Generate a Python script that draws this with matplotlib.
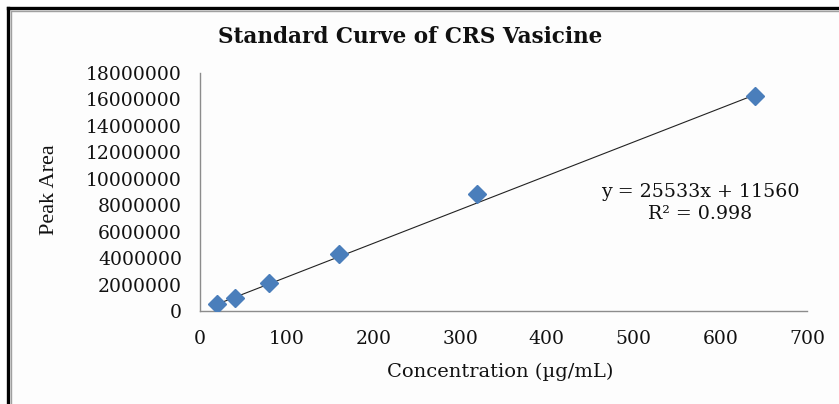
import matplotlib
matplotlib.use("Agg")
import matplotlib.pyplot as plt
from matplotlib.lines import Line2D
import numpy as np

# --- data ---
conc = [20, 40, 80, 160, 320, 640]
peak_area = [520000, 1010000, 2130000, 4290000, 8820000, 16250000]
slope = 25533
intercept = 11560
r_squared = 0.998

x_ticks = [0, 100, 200, 300, 400, 500, 600, 700]
y_ticks = [0, 2000000, 4000000, 6000000, 8000000, 10000000,
           12000000, 14000000, 16000000, 18000000]

C_POINT = "#4a7ebb"
C_AXIS = "#8c8c8c"
SERIF = "DejaVu Serif"

W, H = 839, 404
fig = plt.figure(figsize=(W / 100, H / 100), dpi=100)
fig.patch.set_facecolor("#fdfdfd")

# plot area in pixels: x 200..807, y 73..311
ax = fig.add_axes([200 / W, 1 - 311 / H, 607 / W, 238 / H])
ax.set_facecolor("#fdfdfd")

fit_x = np.array([conc[0], conc[-1]])
ax.plot(fit_x, slope * fit_x + intercept, color="#222222", lw=0.8, zorder=2)
ax.plot(conc, peak_area, linestyle="none", marker="D", markersize=9,
        color=C_POINT, markeredgecolor=C_POINT, zorder=3)

ax.set_xlim(0, 700)
ax.set_ylim(0, 18000000)
ax.set_xticks(x_ticks)
ax.set_yticks(y_ticks)
ax.set_xticklabels([str(t) for t in x_ticks], fontfamily=SERIF, fontsize=13.5)
ax.set_yticklabels([str(t) for t in y_ticks], fontfamily=SERIF, fontsize=13.5)
ax.tick_params(axis="both", length=0, colors="#111111")
ax.tick_params(axis="x", pad=14)
ax.tick_params(axis="y", pad=13)

for side in ("top", "right"):
    ax.spines[side].set_visible(False)
for side in ("left", "bottom"):
    ax.spines[side].set_color(C_AXIS)
    ax.spines[side].set_linewidth(1.0)

fig.text(410 / W, 1 - 37 / H, "Standard Curve of CRS Vasicine",
         ha="center", va="center", fontfamily=SERIF, fontweight="bold",
         fontsize=15.5, color="#111111")
fig.text(50 / W, 1 - 190 / H, "Peak Area", rotation=90,
         ha="center", va="center", fontfamily="Liberation Serif",
         fontsize=16, color="#111111")
fig.text(500 / W, 1 - 372 / H, "Concentration (µg/mL)",
         ha="center", va="center", fontfamily=SERIF, fontsize=14,
         color="#111111")

fig.text(700 / W, 1 - 192 / H, f"y = {slope}x + {intercept}",
         ha="center", va="center", fontfamily=SERIF, fontsize=13.7,
         color="#111111")
fig.text(700 / W, 1 - 214 / H, f"R² = {r_squared}",
         ha="center", va="center", fontfamily=SERIF, fontsize=13.7,
         color="#111111")

# frame lines at the top and left edge of the picture
fig.add_artist(Line2D([7.5 / W, 1], [1 - 7.5 / H, 1 - 7.5 / H],
                      transform=fig.transFigure, color="black", lw=2.4))
fig.add_artist(Line2D([7.5 / W, 7.5 / W], [0, 1 - 7.5 / H],
                      transform=fig.transFigure, color="black", lw=2.4))
fig.add_artist(Line2D([10.5 / W, 1], [1 - 10.5 / H, 1 - 10.5 / H],
                      transform=fig.transFigure, color="#a0a0a0", lw=1.0))
fig.add_artist(Line2D([10.5 / W, 10.5 / W], [0, 1 - 10.5 / H],
                      transform=fig.transFigure, color="#a0a0a0", lw=1.0))

fig.savefig("out.png", dpi=100, facecolor=fig.get_facecolor())
